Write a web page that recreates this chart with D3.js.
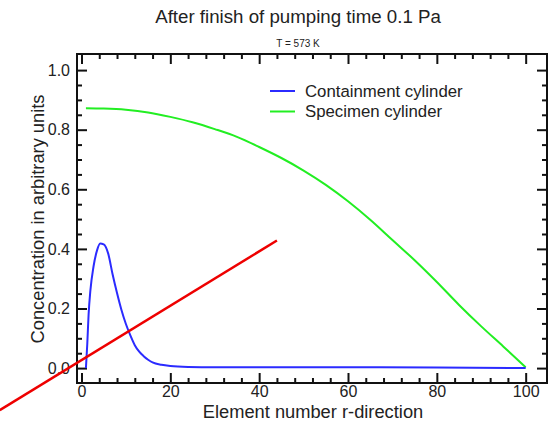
<!DOCTYPE html>
<meta charset="utf-8">
<style>
 body { margin: 0; background: #fff; }
 text { font-family: "Liberation Sans", Arial, sans-serif; fill: #222; }
 .tick text { font-size: 16px; }
</style>
<body>
<script src="https://d3js.org/d3.v7.min.js"></script>
<script>

var width = 549
var height = 426

// element number r-direction
var specX = [1, 5, 10, 15, 20, 25, 30, 35, 40, 45, 50, 55, 60, 65, 70, 75, 80, 85, 90, 95, 100];
var specY = [0.872, 0.871, 0.867, 0.858, 0.843, 0.825, 0.802, 0.776, 0.742, 0.705, 0.663,
             0.615, 0.560, 0.498, 0.430, 0.362, 0.289, 0.212, 0.140, 0.072, 0.003];

var contX = [1, 1.3, 1.6, 2, 2.7, 3.5, 4.2, 5, 6, 7, 8, 9, 10, 11, 12, 13, 14, 15, 16, 18, 20, 24, 30, 40, 60, 80, 100];
var contY = [0.0, 0.08, 0.18, 0.26, 0.34, 0.395, 0.418, 0.415, 0.385, 0.315, 0.252, 0.195, 0.148,
             0.11, 0.077, 0.055, 0.04, 0.028, 0.019, 0.011, 0.007, 0.004, 0.003, 0.003, 0.003, 0.002, 0.0];

// red annotation line, in data units
var redX = [-18.4, 44];
var redY = [-0.141, 0.428];

var xMajor = [0, 20, 40, 60, 80, 100];
var yMajor = [0, 0.2, 0.4, 0.6, 0.8, 1.0];

var pLeft = 77, pRight = 547, pTop = 54, pBottom = 383;

var svg = d3.select("body").append("svg")
  .attr("width", width)
  .attr("height", height);

var x = d3.scaleLinear().domain([-1.01, 104.8]).range([pLeft, pRight]);
var y = d3.scaleLinear().domain([-0.05, 1.054]).range([pBottom, pTop]);

var xMinor = d3.range(0, 101, 4).filter(function (d) { return d % 20 != 0; });
var yMinor = d3.range(0, 21).map(function (i) { return i * 0.05; }).filter(function (d, i) { return i % 4 != 0; });

function styleAxis(g) {
  g.select(".domain").remove();
  g.selectAll(".tick line").attr("stroke", "#111").attr("stroke-width", 2);
}

// major ticks with labels
svg.append("g").attr("transform", "translate(0," + pBottom + ")")
  .call(d3.axisBottom(x).tickValues(xMajor).tickSize(-10).tickPadding(3).tickFormat(d3.format("d")))
  .call(styleAxis);
svg.append("g").attr("transform", "translate(" + pLeft + ",0)")
  .call(d3.axisLeft(y).tickValues(yMajor).tickSize(-10).tickPadding(7).tickFormat(d3.format(".1f")))
  .call(styleAxis);
svg.append("g").attr("transform", "translate(0," + pTop + ")")
  .call(d3.axisTop(x).tickValues(xMajor).tickSize(-10).tickFormat(""))
  .call(styleAxis);
svg.append("g").attr("transform", "translate(" + pRight + ",0)")
  .call(d3.axisRight(y).tickValues(yMajor).tickSize(-10).tickFormat(""))
  .call(styleAxis);

// minor ticks
svg.append("g").attr("transform", "translate(0," + pBottom + ")")
  .call(d3.axisBottom(x).tickValues(xMinor).tickSize(-5).tickFormat("")).call(styleAxis);
svg.append("g").attr("transform", "translate(0," + pTop + ")")
  .call(d3.axisTop(x).tickValues(xMinor).tickSize(-5).tickFormat("")).call(styleAxis);
svg.append("g").attr("transform", "translate(" + pLeft + ",0)")
  .call(d3.axisLeft(y).tickValues(yMinor).tickSize(-5).tickFormat("")).call(styleAxis);
svg.append("g").attr("transform", "translate(" + pRight + ",0)")
  .call(d3.axisRight(y).tickValues(yMinor).tickSize(-5).tickFormat("")).call(styleAxis);

// frame
svg.append("rect")
  .attr("x", pLeft).attr("y", pTop)
  .attr("width", pRight - pLeft).attr("height", pBottom - pTop)
  .attr("fill", "none").attr("stroke", "#111").attr("stroke-width", 2);

var line = d3.line()
  .x(function (d) { return x(d[0]); })
  .y(function (d) { return y(d[1]); })
  .curve(d3.curveMonotoneX);

svg.append("path")
  .datum(specX.map(function (d, i) { return [d, specY[i]]; }))
  .attr("d", line).attr("fill", "none").attr("stroke", "#22ee22").attr("stroke-width", 2);

svg.append("path")
  .datum(contX.map(function (d, i) { return [d, contY[i]]; }))
  .attr("d", line).attr("fill", "none").attr("stroke", "#2b2bff").attr("stroke-width", 2);

svg.append("path")
  .datum(redX.map(function (d, i) { return [d, redY[i]]; }))
  .attr("d", d3.line().x(function (d) { return x(d[0]); }).y(function (d) { return y(d[1]); }))
  .attr("fill", "none").attr("stroke", "#ee0000").attr("stroke-width", 2.5);

// legend
var legend = [["Containment cylinder", "#2b2bff"], ["Specimen cylinder", "#22ee22"]];
legend.forEach(function (d, i) {
  var ly = 91 + i * 20.5;
  svg.append("line").attr("x1", 270).attr("x2", 295).attr("y1", ly).attr("y2", ly)
    .attr("stroke", d[1]).attr("stroke-width", 2);
  svg.append("text").attr("x", 305).attr("y", ly + 5.8)
    .style("font-size", "16.8px").text(d[0]);
});

// titles
svg.append("text").attr("x", 298).attr("y", 23).attr("text-anchor", "middle")
  .style("font-size", "18.7px").text("After finish of pumping time 0.1 Pa");
svg.append("text").attr("x", 298).attr("y", 46.5).attr("text-anchor", "middle")
  .style("font-size", "10px").text("T = 573 K");
svg.append("text").attr("x", 313).attr("y", 418).attr("text-anchor", "middle")
  .style("font-size", "18.3px").text("Element number r-direction");
svg.append("text").attr("transform", "translate(44," + 219 + ") rotate(-90)")
  .attr("text-anchor", "middle")
  .style("font-size", "18.3px").text("Concentration in arbitrary units");

</script>
</body>
